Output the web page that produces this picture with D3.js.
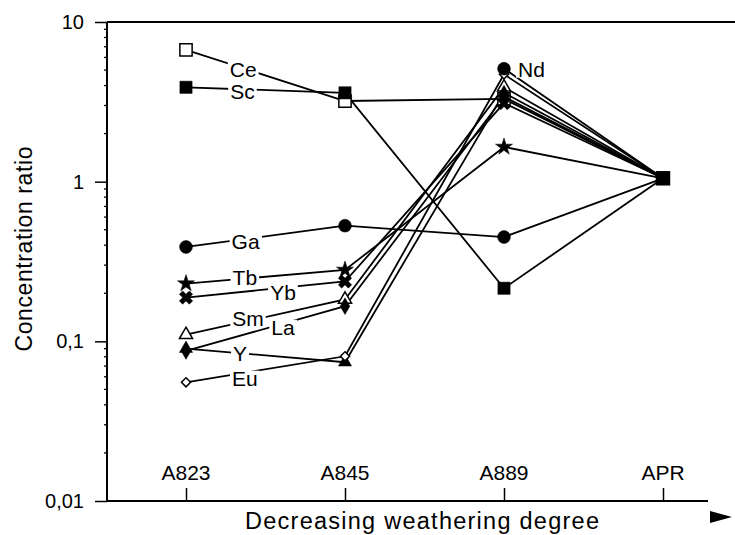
<!DOCTYPE html>
<html><head><meta charset="utf-8">
<script src="https://cdn.jsdelivr.net/npm/d3@7"></script>
<style>body{margin:0;background:#fff}svg{display:block}text{font-family:"Liberation Sans",Arial,Helvetica,sans-serif;fill:#000}</style>
</head><body><svg id="c" width="735" height="535"></svg>
<script>
// ---- data ----
const categories = ["A823", "A845", "A889", "APR"];
const Ce = [6.7, 3.2, 3.3, 1.05];
const Sc = [3.9, 3.6, 0.215, 1.05];
const Ga = [0.39, 0.53, 0.45, 1.05];
const Tb = [0.23, 0.28, 1.65, 1.05];
const Yb = [0.188, 0.237, 3.1, 1.05];
const Sm = [0.11, 0.183, 3.9, 1.05];
const La = [0.087, 0.166, 3.4, 1.05];
const Yv = [0.09, 0.074, 3.6, 1.05];
const Eu = [0.0554, 0.0806, 4.7, 1.05];
const Nd = [null, null, 5.1, 1.05];
const yTickValues = [10, 1, 0.1, 0.01];
const yTickLabels = ["10", "1", "0,1", "0,01"];
const yTitle = "Concentration ratio";
const xTitle = "Decreasing weathering degree";

const series = [
  {name:"Ce", values:Ce, sym:"square", fill:false},
  {name:"Sc", values:Sc, sym:"square", fill:true},
  {name:"Ga", values:Ga, sym:"circle", fill:true},
  {name:"Tb", values:Tb, sym:"star", fill:true},
  {name:"Yb", values:Yb, sym:"x", fill:true},
  {name:"Sm", values:Sm, sym:"triangle", fill:false},
  {name:"La", values:La, sym:"diamond", fill:true},
  {name:"Y",  values:Yv, sym:"triangle", fill:true},
  {name:"Eu", values:Eu, sym:"rdiamond", fill:false},
  {name:"Nd", values:Nd, sym:"circle", fill:true}
];
const labelPos = {
  Ce:{seg:0,t:0.36,dy:1.5}, Sc:{seg:0,t:0.355,dy:2}, Ga:{seg:0,t:0.375,dy:2},
  Tb:{seg:0,t:0.37,dy:-1}, Yb:{seg:0,t:0.61,dy:5}, Sm:{seg:0,t:0.39,dy:-3},
  La:{seg:0,t:0.61,dy:4}, Y:{seg:0,t:0.34,dy:0}, Eu:{seg:0,t:0.37,dy:6},
  Nd:{seg:2,t:0,dx:14,dy:1,anchor:"start"}
};

(function(){
const svg = d3.select("#c");
const pLeft = 107, pTop = 22, pBottom = 501, xEnd = 708;
const x = d3.scalePoint().domain(categories).range([186, 663]);
const y = d3.scaleLog().domain([0.01, 10]).range([pBottom, pTop]);

svg.append("line").attr("x1", pLeft).attr("x2", 735).attr("y1", pTop).attr("y2", pTop)
  .attr("stroke", "#000").attr("stroke-width", 2);

const yAxis = svg.append("g").attr("transform", `translate(${pLeft},0)`)
  .call(d3.axisLeft(y).tickValues(yTickValues).tickSize(12).tickFormat((d,i)=>yTickLabels[i]));
yAxis.select(".domain").attr("stroke-width", 2).attr("d", `M0,${pTop}V${pBottom}`);
yAxis.selectAll(".tick line").attr("stroke-width", 1.5);
yAxis.selectAll(".tick text").attr("x", -23).attr("font-size", 20).attr("font-family", "Liberation Sans, Arial, sans-serif");
const minor = [];
for (let e = -2; e < 1; e++) for (let m = 2; m <= 9; m++) minor.push(m * Math.pow(10, e));
yAxis.selectAll("line.minor").data(minor).enter().append("line").attr("class","minor")
  .attr("x1", -3).attr("x2", 0).attr("y1", d=>y(d)).attr("y2", d=>y(d))
  .attr("stroke", "#000").attr("stroke-width", 1.3);

const xAxis = svg.append("g").attr("transform", `translate(0,${pBottom})`)
  .call(d3.axisBottom(x).tickSize(-13).tickFormat(""));
xAxis.select(".domain").attr("stroke-width", 2).attr("d", `M${pLeft},0H${xEnd}`);
xAxis.selectAll(".tick line").attr("stroke-width", 1.5);
svg.selectAll("text.cat").data(categories).enter().append("text").attr("class","cat")
  .attr("x", d=>x(d)).attr("y", 480).attr("text-anchor","middle").attr("font-size", 21).text(d=>d);

svg.append("text").attr("x", 422).attr("y", 529).attr("text-anchor","middle")
  .attr("font-size", 23.5).attr("textLength", 354).attr("lengthAdjust","spacing").text(xTitle);
svg.append("text").attr("transform","translate(32,249) rotate(-90)").attr("text-anchor","middle")
  .attr("font-size", 23).attr("textLength", 205).attr("lengthAdjust","spacing").text(yTitle);
svg.append("path").attr("d", d3.line()([[710,511],[732,517],[710,523]]) + "Z").attr("fill","#000");

const line = d3.line().defined(d=>d.v!=null).x(d=>x(d.c)).y(d=>y(d.v));
const gLines = svg.append("g");
series.forEach(s => {
  const pts = categories.map((c,i)=>({c, v:s.values[i]}));
  gLines.append("path").datum(pts).attr("d", line).attr("fill","none")
    .attr("stroke","#000").attr("stroke-width",1.8);
});

const gLab = svg.append("g");
series.forEach(s => {
  const p = labelPos[s.name];
  const c0 = categories[p.seg], c1 = categories[p.seg+1];
  const v0 = s.values[p.seg], v1 = s.values[p.seg+1];
  const lx = x(c0) + p.t*(x(c1)-x(c0)) + (p.dx||0);
  const ly = y(v0) + p.t*(y(v1)-y(v0)) + (p.dy||0);
  const g = gLab.append("g");
  const t = g.append("text").attr("x", lx).attr("y", ly).attr("dy","0.36em")
    .attr("text-anchor", p.anchor||"middle").attr("font-size", 21).text(s.name);
  const b = t.node().getBBox();
  g.insert("rect","text").attr("x", b.x-2).attr("y", ly-8).attr("width", b.width+4).attr("height", 16).attr("fill","#fff");
});

const symMap = {
  square:{type:d3.symbolSquare,size:150,rot:0},
  circle:{type:d3.symbolCircle,size:130,rot:0},
  star:{type:d3.symbolStar,size:90,rot:0},
  x:{type:d3.symbolCross,size:110,rot:45},
  triangle:{type:d3.symbolTriangle,size:75,rot:0},
  diamond:{type:d3.symbolDiamond,size:80,rot:0},
  rdiamond:{type:d3.symbolSquare,size:42,rot:45}
};
const gM = svg.append("g");
series.forEach(s => {
  const sm = symMap[s.sym];
  const sym = d3.symbol().type(sm.type).size(sm.size);
  s.values.forEach((v,i) => {
    if (v==null || categories[i]==="APR") return;
    gM.append("path").attr("d", sym())
      .attr("transform", `translate(${x(categories[i])},${y(v)}) rotate(${sm.rot})`)
      .attr("fill", s.fill ? "#000" : "#fff").attr("stroke","#000").attr("stroke-width", s.fill?0.5:1.5);
  });
});
const aprV = series[0].values[3];
gM.append("path").attr("d", d3.symbol().type(d3.symbolSquare).size(210)())
  .attr("transform", `translate(${x("APR")},${y(aprV)})`).attr("fill","#000");
})();
</script></body></html>
